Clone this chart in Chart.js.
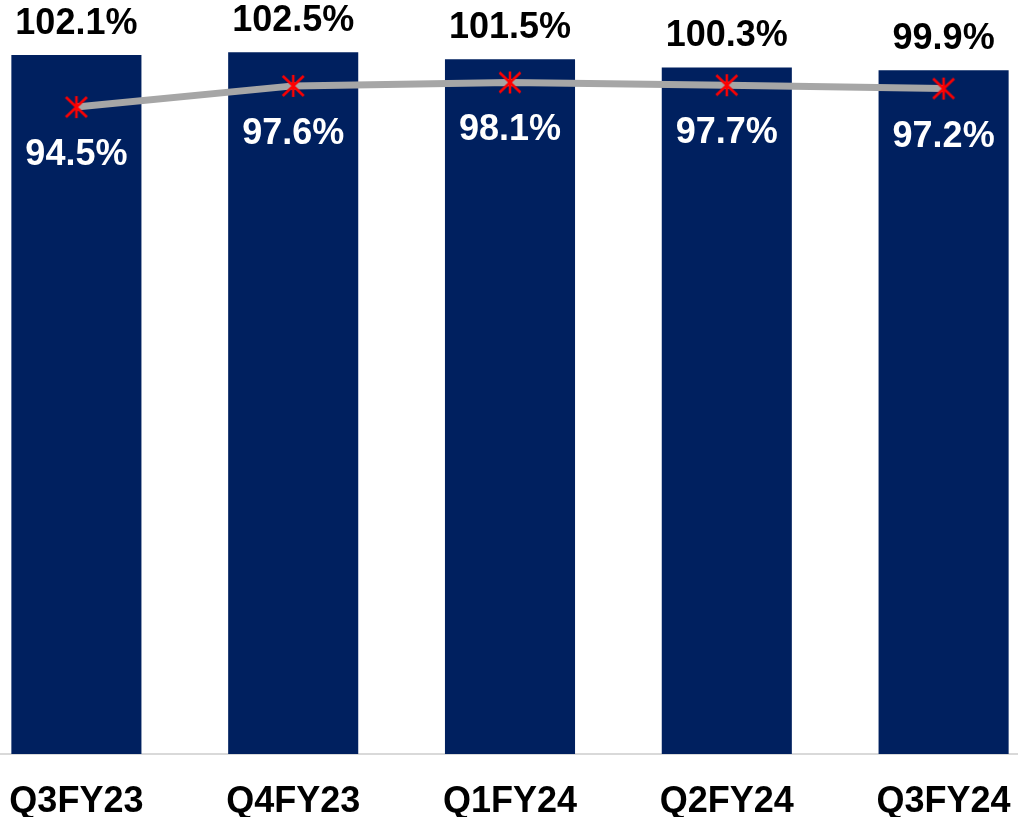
<!DOCTYPE html>
<html>
<head>
<meta charset="utf-8">
<script src="https://cdn.jsdelivr.net/npm/chart.js@4.4.1/dist/chart.umd.min.js"></script>
<style>
  html, body { margin: 0; padding: 0; background: #fff; overflow: hidden; }
  #wrap { position: absolute; left: -32px; top: 0; width: 1084px; height: 817px; }
</style>
</head>
<body>
<div id="wrap"><canvas id="chart"></canvas></div>
<script>
// Chart data
const quarters = ['Q3FY23', 'Q4FY23', 'Q1FY24', 'Q2FY24', 'Q3FY24'];
const barValues = [102.1, 102.5, 101.5, 100.3, 99.9];
const lineValues = [94.5, 97.6, 98.1, 97.7, 97.2];

const FONT = '"Liberation Sans", Arial, sans-serif';

// Red asterisk-like marker (X with a vertical stroke)
function makeMarker() {
    const c = document.createElement('canvas');
    c.width = 24;
    c.height = 24;
    const g = c.getContext('2d');
    g.strokeStyle = '#ff0000';
    g.lineWidth = 2.5;
    g.beginPath();
    g.moveTo(1.5, 2); g.lineTo(22.5, 22);
    g.moveTo(22.5, 2); g.lineTo(1.5, 22);
    g.moveTo(12, 1); g.lineTo(12, 23);
    g.stroke();
    return c;
}

// Value labels above bars and under line points
const valueLabels = {
    id: 'valueLabels',
    afterDatasetsDraw(chart) {
        const ctx = chart.ctx;
        ctx.save();
        ctx.font = 'bold 36px ' + FONT;
        ctx.textAlign = 'center';
        ctx.textBaseline = 'alphabetic';

        const lineMeta = chart.getDatasetMeta(0);
        const barMeta = chart.getDatasetMeta(1);

        ctx.fillStyle = '#000000';
        barMeta.data.forEach((bar, i) => {
            ctx.fillText(barValues[i].toFixed(1) + '%', bar.x, bar.y - 21);
        });

        ctx.fillStyle = '#ffffff';
        lineMeta.data.forEach((pt, i) => {
            ctx.fillText(lineValues[i].toFixed(1) + '%', pt.x, pt.y + 58);
        });
        ctx.restore();
    }
};

const ctx = document.getElementById('chart').getContext('2d');
new Chart(ctx, {
    type: 'bar',
    data: {
        labels: quarters,
        datasets: [
            {
                type: 'line',
                data: lineValues,
                borderColor: '#a6a6a6',
                borderWidth: 7,
                pointStyle: makeMarker(),
                pointRadius: 12,
                tension: 0,
                order: 0
            },
            {
                type: 'bar',
                data: barValues,
                backgroundColor: '#00205f',
                categoryPercentage: 1,
                barPercentage: 0.6,
                order: 1
            }
        ]
    },
    options: {
        responsive: true,
        maintainAspectRatio: false,
        animation: false,
        layout: { autoPadding: false, padding: { top: 1, bottom: 0, left: 0, right: 0 } },
        plugins: {
            legend: { display: false },
            tooltip: { enabled: false }
        },
        scales: {
            x: {
                grid: { display: false, drawTicks: false },
                border: { display: true, color: '#d9d9d9', width: 2 },
                ticks: {
                    padding: 26,
                    color: '#000000',
                    font: { family: FONT, size: 36, weight: 'bold' }
                },
                afterFit(scale) {
                    // keep the plot area full width and the axis band at 63px
                    scale.paddingLeft = 0;
                    scale.paddingRight = 0;
                    scale.height = 63;
                }
            },
            y: {
                display: false,
                min: 0,
                max: 110
            }
        }
    },
    plugins: [valueLabels]
});
</script>
</body>
</html>
